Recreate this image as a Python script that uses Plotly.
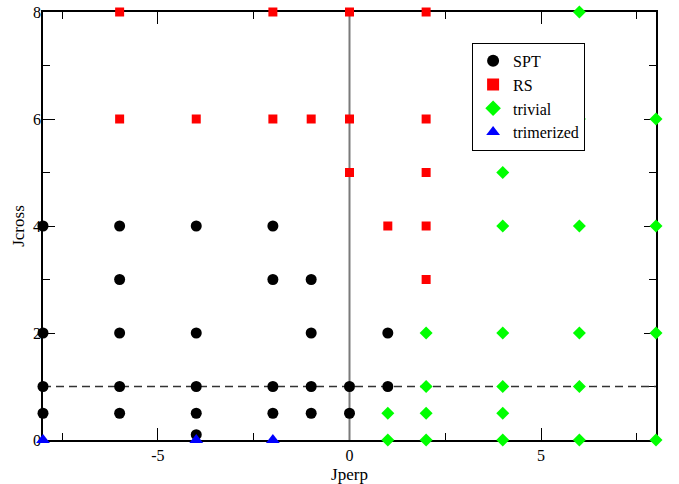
import plotly.graph_objects as go

# SPT (black circles)
spt_x = [-8, -8, -8, -8, -6, -6, -6, -6, -6, -4, -4, -4, -4, -4, -2, -2, -2, -2, -1, -1, -1, -1, 0, 0, 1, 1]
spt_y = [0.5, 1, 2, 4, 0.5, 1, 2, 3, 4, 0.1, 0.5, 1, 2, 4, 0.5, 1, 3, 4, 0.5, 1, 2, 3, 0.5, 1, 1, 2]

# RS (red squares)
rs_x = [-6, -6, -4, -2, -2, -1, 0, 0, 0, 1, 2, 2, 2, 2, 2]
rs_y = [6, 8, 6, 6, 8, 6, 5, 6, 8, 4, 3, 4, 5, 6, 8]

# trivial (green diamonds)
tr_x = [1, 1, 2, 2, 2, 2, 4, 4, 4, 4, 4, 4, 4, 6, 6, 6, 6, 6, 6, 8, 8, 8, 8]
tr_y = [0, 0.5, 0, 0.5, 1, 2, 0, 0.5, 1, 2, 4, 5, 6, 0, 1, 2, 4, 6, 8, 0, 2, 4, 6]

# trimerized (blue triangles)
tm_x = [-8, -4, -2]
tm_y = [0, 0, 0]

# tick labels
x_ticks = [-5, 0, 5]
x_ticktext = ["-5", "0", "5"]
y_ticks = [0, 2, 4, 6, 8]
y_ticktext = ["0", "2", "4", "6", "8"]

# reference lines
vline_x = [0, 0]
vline_y = [0, 8]
hline_x = [-8, 8]
hline_y = [1, 1]

font_family = "Liberation Serif, Times New Roman, serif"

fig = go.Figure()
fig.add_trace(go.Scatter(x=vline_x, y=vline_y, mode="lines",
                         line=dict(color="#7a7a7a", width=2), showlegend=False, hoverinfo="skip"))
fig.add_trace(go.Scatter(x=hline_x, y=hline_y, mode="lines",
                         line=dict(color="#333333", width=1.5, dash="8px,5px"), showlegend=False, hoverinfo="skip"))
fig.add_trace(go.Scatter(x=spt_x, y=spt_y, mode="markers", name="SPT", cliponaxis=False,
                         marker=dict(symbol="circle", size=11, color="black")))
fig.add_trace(go.Scatter(x=rs_x, y=rs_y, mode="markers", name="RS", cliponaxis=False,
                         marker=dict(symbol="square", size=9, color="#ff0000")))
fig.add_trace(go.Scatter(x=tr_x, y=tr_y, mode="markers", name="trivial", cliponaxis=False,
                         marker=dict(symbol="diamond", size=10, color="#00ff00")))
fig.add_trace(go.Scatter(x=tm_x, y=tm_y, mode="markers", name="trimerized", cliponaxis=False,
                         marker=dict(symbol="triangle-up", size=12, color="#0000ff")))

axis_common = dict(showgrid=False, zeroline=False, showline=True, linecolor="black", linewidth=1.5,
                   mirror="allticks", ticks="inside", tickcolor="black", tickwidth=1, automargin=False,
                   ticklabeloverflow="allow", layer="below traces",
                   tickfont=dict(family=font_family, size=16, color="black"))

fig.update_layout(
    width=679, height=484,
    margin=dict(l=43, r=23, t=12, b=44),
    plot_bgcolor="white", paper_bgcolor="white",
    font=dict(family=font_family, color="black"),
    xaxis=dict(range=[-8, 8], tickvals=x_ticks, ticktext=x_ticktext, ticklen=12,
               minor=dict(tickvals=[-7.5, -2.5, 2.5, 7.5], ticklen=7, ticks="inside", tickcolor="black", showgrid=False),
               title=dict(text="Jperp", font=dict(family=font_family, size=17)),
               **axis_common),
    yaxis=dict(range=[0, 8], tickvals=y_ticks, ticktext=y_ticktext, ticklen=12, ticklabelstandoff=-3,
               minor=dict(tickvals=[1, 3, 5, 7], ticklen=7, ticks="inside", tickcolor="black", showgrid=False),
               title=dict(text="Jcross", font=dict(family=font_family, size=17), standoff=4),
               **axis_common),
    legend=dict(x=0.70, y=0.928, xanchor="left", yanchor="top",
                bgcolor="white", bordercolor="black", borderwidth=1,
                font=dict(family=font_family, size=16), tracegroupgap=0,
                itemsizing="constant"),
    showlegend=True,
)

fig.write_html("out.html", config={"displayModeBar": False},
               post_script="document.body.style.margin='0';document.body.style.overflow='hidden';")
